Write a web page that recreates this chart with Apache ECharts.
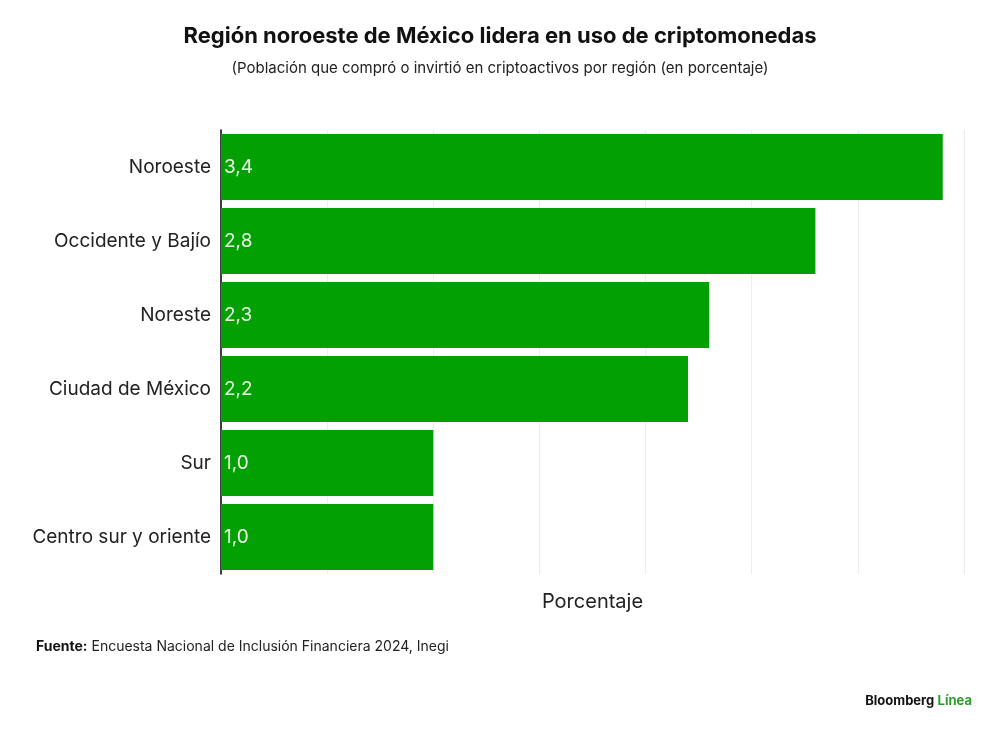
<!DOCTYPE html>
<html lang="es">
<head>
<meta charset="UTF-8">
<title>Región noroeste de México lidera en uso de criptomonedas</title>
<script src="https://cdn.jsdelivr.net/npm/echarts@6/dist/echarts.min.js"></script>
<style>
  html, body { margin: 0; padding: 0; background: #fff; }
  #main { width: 1000px; height: 731px; }
</style>
</head>
<body>
<div id="main"></div>
<script>
  // datos
  const regiones = ['Noroeste', 'Occidente y Bajío', 'Noreste', 'Ciudad de México', 'Sur', 'Centro sur y oriente'];
  const porcentajes = [3.4, 2.8, 2.3, 2.2, 1.0, 1.0];

  const FONT = 'Inter, "Liberation Sans", sans-serif';
  const chart = echarts.init(document.getElementById('main'));

  chart.setOption({
    backgroundColor: '#fff',
    animation: false,
    title: {
      text: 'Región noroeste de México lidera en uso de criptomonedas',
      subtext: '(Población que compró o invirtió en criptoactivos por región (en porcentaje)',
      left: 'center',
      top: 20,
      itemGap: 14,
      textStyle: { fontFamily: FONT, fontSize: 22, fontWeight: 'bold', color: '#111' },
      subtextStyle: { fontFamily: FONT, fontSize: 15, color: '#222' }
    },
    grid: { left: 221, right: 36, top: 130, height: 444, containLabel: false },
    xAxis: {
      type: 'value',
      min: 0,
      max: 3.5,
      interval: 0.5,
      name: 'Porcentaje',
      nameLocation: 'middle',
      nameGap: 18,
      nameTextStyle: { fontFamily: FONT, fontSize: 20, color: '#222' },
      axisLabel: { show: false },
      axisLine: { show: false },
      axisTick: { show: false },
      splitLine: { show: true, lineStyle: { color: '#ececec', width: 1 } }
    },
    yAxis: {
      type: 'category',
      data: regiones,
      inverse: true,
      axisLine: { show: true, lineStyle: { color: '#000', width: 1.5 } },
      axisTick: { show: false },
      axisLabel: { fontFamily: FONT, fontSize: 19, color: '#222', margin: 10 }
    },
    series: [{
      type: 'bar',
      data: porcentajes,
      barWidth: 66,
      itemStyle: { color: '#03a003' },
      label: {
        show: true,
        position: 'insideLeft',
        distance: 3,
        fontFamily: FONT,
        fontSize: 19,
        color: '#eefbe9',
        formatter: p => p.value.toFixed(1).replace('.', ',')
      }
    }],
    graphic: [
      {
        type: 'text', left: 36, top: 640,
        style: {
          text: '{b|Fuente:} Encuesta Nacional de Inclusión Financiera 2024, Inegi',
          font: '14px ' + FONT, fill: '#222',
          rich: { b: { fontWeight: 'bold', fontSize: 14, fontFamily: FONT, fill: '#111' } }
        }
      },
      {
        type: 'text', right: 28, top: 695,
        style: {
          text: '{a|Bloomberg} {g|Línea}',
          rich: {
            a: { fontWeight: 'bold', fontSize: 13, fontFamily: FONT, fill: '#111' },
            g: { fontWeight: 'bold', fontSize: 13, fontFamily: FONT, fill: '#2a9d2a' }
          }
        }
      }
    ]
  });
</script>
</body>
</html>
